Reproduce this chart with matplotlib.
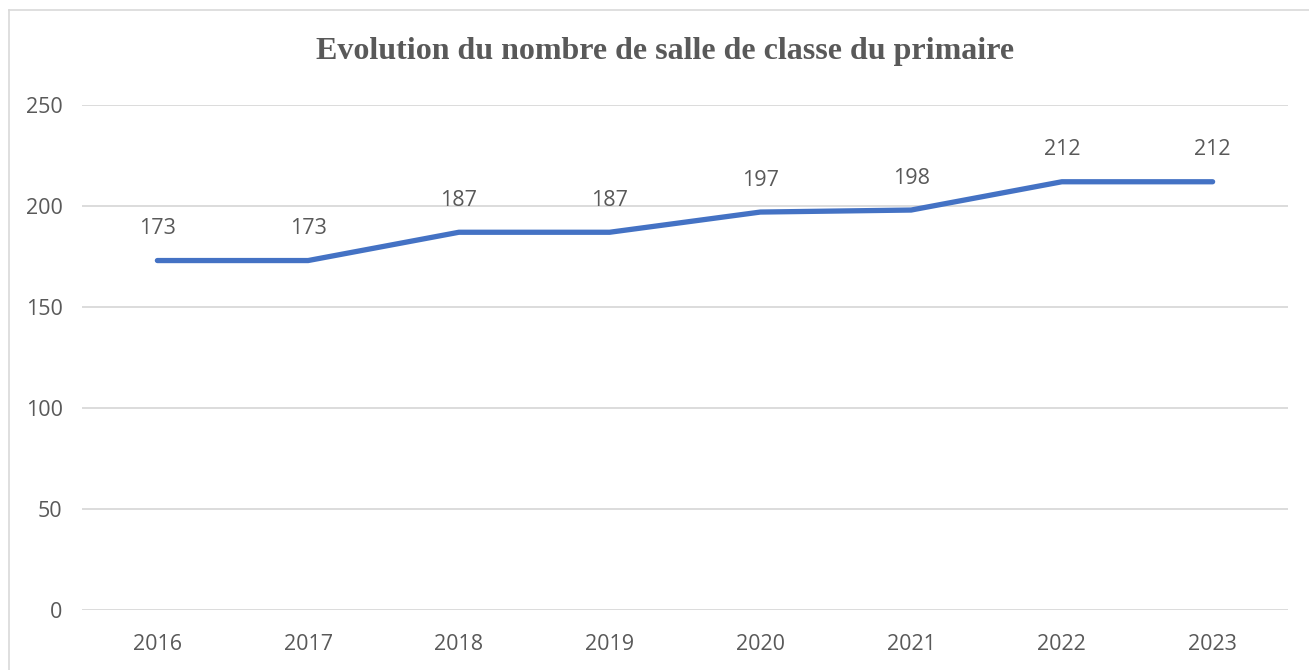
import matplotlib.pyplot as plt
from matplotlib.lines import Line2D

years = ["2016", "2017", "2018", "2019", "2020", "2021", "2022", "2023"]
classrooms = [173, 173, 187, 187, 197, 198, 212, 212]
y_ticks = [0, 50, 100, 150, 200, 250]

text_grey = "#595959"
line_blue = "#4472C4"

fig = plt.figure(figsize=(13.09, 6.70), dpi=100)
ax = fig.add_axes([82 / 1309, 1 - 610 / 670, (1288 - 82) / 1309, (610 - 105) / 670])

x = range(len(years))
ax.plot(x, classrooms, color=line_blue, lw=3.8, solid_capstyle="round",
        solid_joinstyle="round", zorder=3)

for xi, v in zip(x, classrooms):
    ax.annotate(str(v), (xi, v), xytext=(0, 23), textcoords="offset points",
                ha="center", va="center", fontsize=15.5, color=text_grey,
                family="Open Sans")

ax.set_xlim(-0.5, len(years) - 0.5)
ax.set_ylim(0, 250)
ax.set_yticks(y_ticks)
ax.set_xticks(list(x))
ax.set_xticklabels(years)
ax.grid(axis="y", color="#d9d9d9", lw=1.3)
ax.set_axisbelow(True)
for s in ax.spines.values():
    s.set_visible(False)
ax.tick_params(length=0, labelsize=15.5, labelcolor=text_grey)
ax.tick_params(axis="x", pad=17)
ax.tick_params(axis="y", pad=14)
for lab in ax.get_xticklabels() + ax.get_yticklabels():
    lab.set_family("Open Sans")

fig.text(665 / 1309, 1 - 52 / 670, "Evolution du nombre de salle de classe du primaire",
         ha="center", va="center", fontsize=23, fontweight="bold",
         family="Liberation Serif", color=text_grey)

# chart frame (only top and left edges visible in the crop)
fig.add_artist(Line2D([9 / 1309, 9 / 1309], [0, 1 - 10 / 670], transform=fig.transFigure,
                      color="#d9d9d9", lw=1.2))
fig.add_artist(Line2D([9 / 1309, 1], [1 - 10 / 670, 1 - 10 / 670], transform=fig.transFigure,
                      color="#d9d9d9", lw=1.2))

fig.savefig("out.png", dpi=100, facecolor="white")
